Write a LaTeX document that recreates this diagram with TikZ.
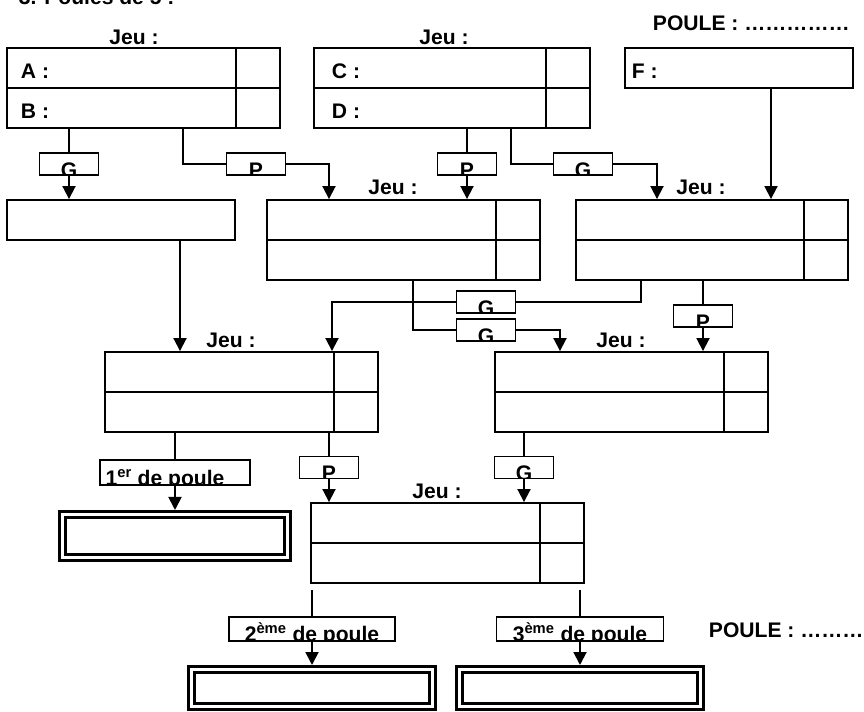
\documentclass[tikz,border=0pt]{standalone}
\usepackage{fontspec}
\setmainfont{Liberation Sans}
\usetikzlibrary{arrows.meta}
\begin{document}
\begin{tikzpicture}[x=0.03cm,y=-0.03cm,line width=1.6pt,
  every node/.style={font=\fontsize{18}{21}\selectfont\bfseries},
  arr/.style={-{Triangle[length=0.39cm,width=0.39cm]}},
  jeubox/.style={draw,inner sep=0pt,minimum width=8.19cm,minimum height=2.4cm},
  onebox/.style={draw,inner sep=0pt,minimum width=6.84cm,minimum height=1.2cm},
  tagbox/.style={draw,fill=white,inner sep=0pt,minimum width=1.77cm,minimum height=0.66cm,
    path picture={\node[draw=none,anchor=base,yshift=-0.07cm] at (path picture bounding box.south) {#1};}},
  rankbox/.style={draw,fill=white,inner sep=0pt,minimum height=0.72cm,
    path picture={\node[draw=none,anchor=base] at (path picture bounding box.south) {#1};}},
  endbox/.style={draw,double,line width=2.6pt,double distance=2.3pt,inner sep=0pt,outer sep=0.14cm},
  lbl/.style={anchor=base west,inner sep=0pt},
  jeu/.style={anchor=base,inner sep=0pt}]
\useasboundingbox (0,0) rectangle (864,712);
\node[lbl] (titre) at (18,5) {3. Poules de 5 :};
\node[lbl] (poule1) at (652,31) {POULE : ……………};
% first round
\node[jeubox] (ab) at (143.5,88) {};
\node[jeubox,minimum width=8.28cm] (cd) at (452,88) {};
\node[onebox] (f) at (739,68) {};
\node[jeu] (j1) at (134,45) {Jeu :};
\node[jeu] (j2) at (444,45) {Jeu :};
\node[lbl] (a) at (20,79) {A :};
\node[lbl] (b) at (20,119) {B :};
\node[lbl] (c) at (331,79) {C :};
\node[lbl] (d) at (331,119) {D :};
\node[lbl] (fl) at (631,79) {F :};
% second round
\node[onebox] (w1) at (121,220) {};
\node[jeubox] (m2) at (403.5,240) {};
\node[jeubox,minimum width=8.16cm] (m3) at (712,240) {};
\node[jeu] (j3) at (393,195) {Jeu :};
\node[jeu] (j4) at (701,195) {Jeu :};
% third round
\node[jeubox] (m4) at (241.5,392) {};
\node[jeubox] (m5) at (631.5,392) {};
\node[jeu] (j5) at (231,348) {Jeu :};
\node[jeu] (j6) at (621,348) {Jeu :};
% last game
\node[jeubox] (m6) at (447.5,543) {};
\node[jeu] (j7) at (437,498) {Jeu :};
\node[lbl] (poule2) at (708,637) {POULE : ………};
% places
\node[endbox,minimum width=6.77cm,minimum height=1.28cm] (d1) at (175,536) {};
\node[endbox,minimum width=7.22cm,minimum height=1.1cm] (d2) at (312,688) {};
\node[endbox,minimum width=7.22cm,minimum height=1.1cm] (d3) at (580,688) {};
\foreach \b in {ab,cd,m2,m3,m4,m5,m6} {
  \draw (\b.west) -- (\b.east);
  \draw ([xshift=-1.35cm]\b.north east) -- ([xshift=-1.35cm]\b.south east);
}
% winner / loser tags
\node[tagbox=G] (g1) at (69,164) {};
\node[tagbox=P] (p1) at (256,164) {};
\node[tagbox=P] (p2) at (467,164) {};
\node[tagbox=G] (g2) at (583,164) {};
\node[tagbox=G] (g3) at (486,302) {};
\node[tagbox=G] (g4) at (486,330) {};
\node[tagbox=P] (p3) at (703,316) {};
\node[tagbox=P] (p4) at (329,467.5) {};
\node[tagbox=G] (g5) at (524,467.5) {};
\node[rankbox={1\textsuperscript{er} de poule\kern0.6cm},minimum width=4.5cm,minimum height=0.75cm] (r1) at (175,472.5) {};
\node[rankbox={2\textsuperscript{ème} de poule},minimum width=4.98cm] (r2) at (312,629) {};
\node[rankbox={3\textsuperscript{ème} de poule},minimum width=5.01cm] (r3) at (580,629) {};
\coordinate (fo) at ([xshift=0.96cm]f.south);
% connectors
\draw (ab.south -| g1) -- (g1.north);
\draw[arr] (g1.south) -- (g1 |- w1.north);
\draw ([xshift=1.185cm]ab.south) |- (p1.west);
\draw[arr] (p1.east) -| ([xshift=-2.235cm]m2.north);
\draw (cd.south -| p2) -- (p2.north);
\draw[arr] (p2.south) -- (p2 |- m2.north);
\draw ([xshift=1.77cm]cd.south) |- (g2.west);
\draw[arr] (g2.east) -| ([xshift=-1.65cm]m3.north);
\draw[arr] (fo) -- (fo |- m3.north);
\draw[arr] ([xshift=1.77cm]w1.south) -- ([xshift=-1.845cm]m4.north);
\draw ([xshift=0.285cm]m2.south) |- (g4.west);
\draw[arr] (g4.east) -| ([xshift=-2.145cm]m5.north);
\draw ([xshift=-2.13cm]m3.south) |- (g3.east);
\draw[arr] (g3.west) -| ([xshift=2.715cm]m4.north);
\draw (m3.south -| p3) -- (p3.north);
\draw[arr] (p3.south) -- (p3 |- m5.north);
\draw (m4.south -| r1) -- (r1.north);
\draw[arr] (r1.south) -- (r1 |- d1.north);
\draw (m4.south -| p4) -- (p4.north);
\draw[arr] (p4.south) -- (p4 |- m6.north);
\draw (m5.south -| g5) -- (g5.north);
\draw[arr] (g5.south) -- (g5 |- m6.north);
\draw[shorten <=0.18cm] (m6.south -| r2) -- (r2.north);
\draw[arr] (r2.south) -- (r2 |- d2.north);
\draw[shorten <=0.18cm] (m6.south -| r3) -- (r3.north);
\draw[arr] (r3.south) -- (r3 |- d3.north);
\end{tikzpicture}
\end{document}
